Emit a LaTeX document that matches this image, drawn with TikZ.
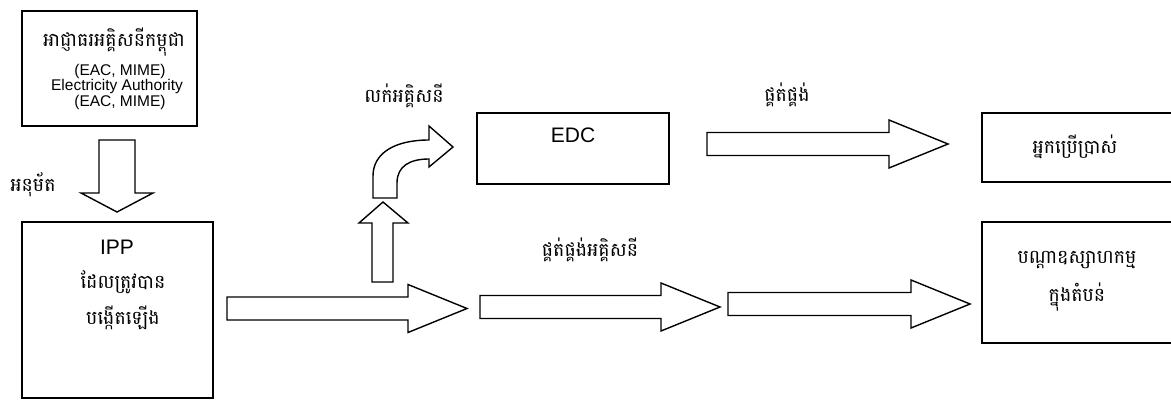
\documentclass[tikz,border=0pt]{standalone}
\usepackage{fontspec}
\setmainfont{Liberation Sans}
\newfontfamily\kh[Script=Khmer]{Battambang}
\begin{document}
\begin{tikzpicture}[x=1pt,y=-1pt,
  box/.style={draw,line width=1.5pt,rectangle,inner sep=0pt},
  blockarrow/.style={draw,line width=1.4pt,line join=miter,fill=white},
  en/.style={font=\fontsize{15.5}{17}\selectfont,inner sep=0pt},
  big/.style={font=\fontsize{21}{23}\selectfont,inner sep=0pt},
  khm/.style={font=\kh\fontsize{19}{22}\selectfont,inner sep=0pt}]
\useasboundingbox (0,0) rectangle (1171,401);
\newcommand\hblock[3]{%
  \draw[blockarrow] (#1,#3-11.5) -- (#2-59,#3-11.5) -- (#2-59,#3-24) -- (#2,#3)
    -- (#2-59,#3+24) -- (#2-59,#3+11.5) -- (#1,#3+11.5) -- cycle;}
% boxes
\node[box,minimum width=175pt,minimum height=115pt] (eac) at (109.5,68.5) {};
\node[box,minimum width=191pt,minimum height=176pt] (ipp) at (117.5,310) {};
\node[box,minimum width=192pt,minimum height=71pt] (edc) at (573,148.5) {};
\node[box,minimum width=191pt,minimum height=69pt] (user) at (1077.5,147.5) {};
\node[box,minimum width=191pt,minimum height=121pt] (ind) at (1077.5,282.5) {};
% texts in boxes
\node[khm] (eackh) at (114,42) {អាជ្ញាធរអគ្គិសនីកម្ពុជា};
\node[en] (eac1) at (120,71) {(EAC, MIME)};
\node[en] (eac2) at (117,86) {Electricity Authority};
\node[en] (eac3) at (120,102) {(EAC, MIME)};
\node[big] (ipptx) at (117,247) {IPP};
\node[khm] (ipp1) at (123,282) {ដែលត្រូវបាន};
\node[khm] (ipp2) at (123,318) {បង្កើតឡើង};
\node[big] (edctx) at (573,135) {EDC};
\node[khm] (usertx) at (1075,147) {អ្នកប្រើប្រាស់};
\node[khm] (ind1) at (1077,260) {បណ្ដាឧស្សាហកម្ម};
\node[khm] (ind2) at (1077,297) {ក្នុងតំបន់};
% labels
\node[khm] (lapprove) at (33,185) {អនុម័ត};
\node[khm] (lsell) at (404,96) {លក់អគ្គិសនី};
\node[khm] (lsupply) at (787,95) {ផ្គត់ផ្គង់};
\node[khm] (lsupplyel) at (590,250) {ផ្គត់ផ្គង់អគ្គិសនី};
% down arrow
\draw[blockarrow] (99,140) -- (135,140) -- (135,193) -- (153,193) -- (117,212)
  -- (81,193) -- (99,193) -- cycle;
% up arrow
\draw[blockarrow] (372,282) -- (372,223) -- (359,223) -- (383,202) -- (408,223)
  -- (393,223) -- (393,282) -- cycle;
% bent arrow
\draw[blockarrow] (373,198) -- (373,176) .. controls (373,153) and (395,140) .. (429,140)
  -- (429,126) -- (453,147) -- (429,167) -- (429,159)
  .. controls (410,159) and (397,166) .. (397,183) -- (397,198) -- cycle;
% horizontal arrows
\hblock{227}{467}{308.5}
\hblock{480}{720}{307}
\hblock{728}{970}{304}
\hblock{707}{948}{144}
\end{tikzpicture}
\end{document}
